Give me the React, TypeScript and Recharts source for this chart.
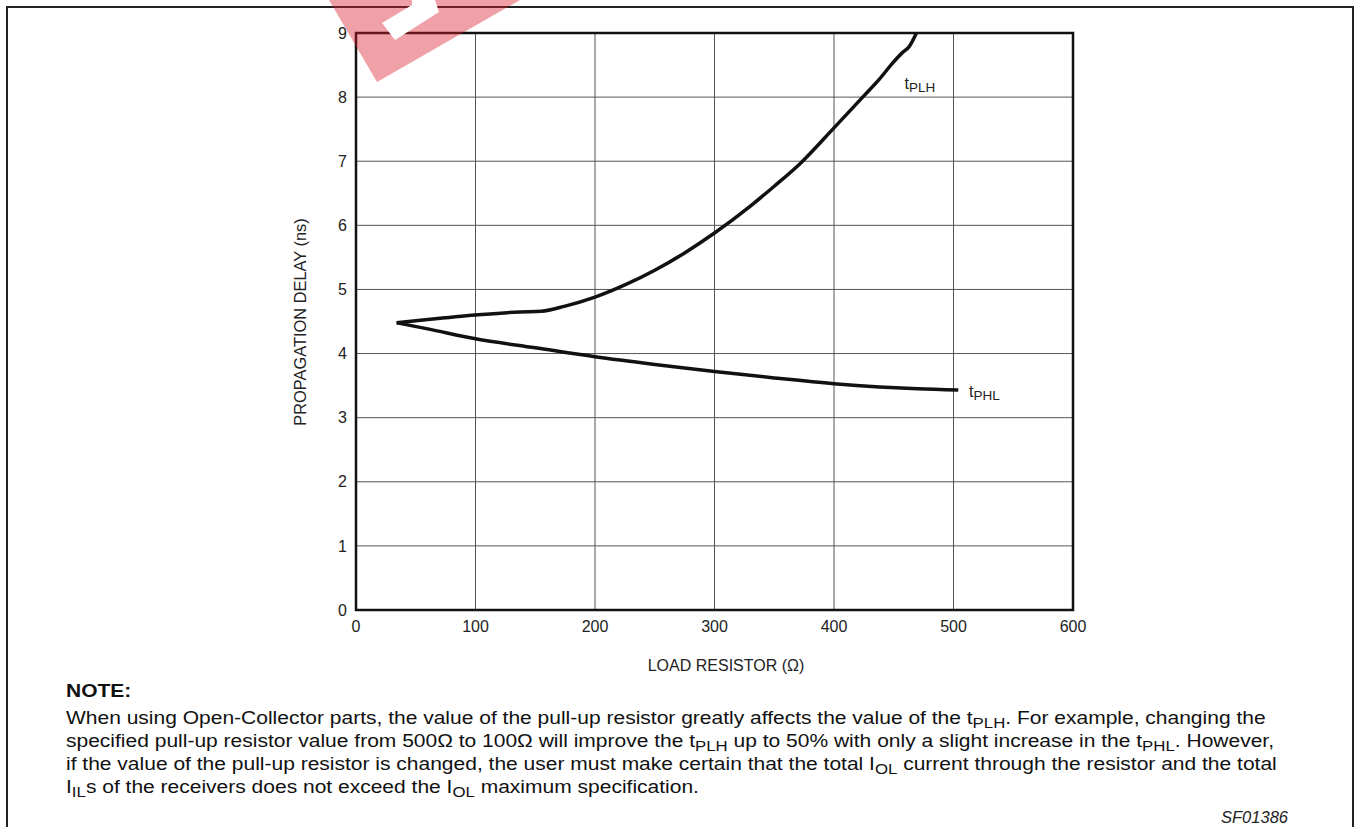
import React from "react";
import {
  LineChart,
  Line,
  XAxis,
  YAxis,
  CartesianGrid,
  ReferenceArea,
  ReferenceDot,
} from "recharts";

// load resistor (ohm) vs propagation delay (ns)
const tplhResistor = [34, 60, 100, 137, 155, 175, 200, 225, 250, 275, 300, 330, 350, 372, 400, 424, 438, 449, 457, 463, 469];
const tplhDelay = [4.48, 4.53, 4.6, 4.65, 4.66, 4.74, 4.88, 5.07, 5.3, 5.57, 5.88, 6.3, 6.61, 6.97, 7.52, 8.0, 8.28, 8.53, 8.69, 8.79, 9.0];

const tphlResistor = [34, 60, 100, 150, 200, 250, 300, 350, 400, 438, 470, 504];
const tphlDelay = [4.48, 4.385, 4.23, 4.09, 3.95, 3.83, 3.72, 3.62, 3.53, 3.48, 3.45, 3.43];

const xTicks = [0, 100, 200, 300, 400, 500, 600];
const yTicks = [0, 1, 2, 3, 4, 5, 6, 7, 8, 9];

const tplhData = tplhResistor.map((r, i) => ({ r, ns: tplhDelay[i] }));
const tphlData = tphlResistor.map((r, i) => ({ r, ns: tphlDelay[i] }));

const FONT = "Arial, 'Liberation Sans', Helvetica, sans-serif";
const INK = "#111";

function CurveLabel({ viewBox, sub }: { viewBox?: any; sub: string }) {
  if (!viewBox) return null;
  return (
    <text x={viewBox.x} y={viewBox.y} fontSize={16} fill="#222" fontFamily={FONT}>
      t
      <tspan fontSize={13.5} dy={3}>
        {sub}
      </tspan>
    </text>
  );
}

function Sub({ children }: { children: React.ReactNode }) {
  return (
    <span style={{ fontSize: 14, position: "relative", top: 4 }}>{children}</span>
  );
}

export default function App() {
  return (
    <div
      style={{
        position: "absolute",
        left: 0,
        top: 0,
        width: 1358,
        height: 827,
        overflow: "hidden",
        background: "#fff",
        fontFamily: FONT,
        color: INK,
      }}
    >
      {/* page frame */}
      <div
        style={{
          position: "absolute",
          left: 6,
          top: 6,
          width: 1344,
          height: 900,
          border: "2px solid #222",
        }}
      />

      <div style={{ position: "absolute", left: 0, top: 0 }}>
        <LineChart
          width={1358}
          height={700}
          margin={{ top: 33, right: 285, bottom: 60, left: 296 }}
        >
          <CartesianGrid stroke="#555" strokeWidth={1} />
          <XAxis
            dataKey="r"
            type="number"
            domain={[0, 600]}
            ticks={xTicks}
            allowDuplicatedCategory={false}
            height={30}
            tickLine={false}
            tickSize={0}
            tickMargin={11}
            axisLine={false}
            tick={{ fontSize: 16, fill: "#222", fontFamily: FONT }}
          />
          <YAxis
            type="number"
            domain={[0, 9]}
            ticks={yTicks}
            width={60}
            tickLine={false}
            tickSize={0}
            tickMargin={9}
            axisLine={false}
            tick={{ fontSize: 16, fill: "#222", fontFamily: FONT }}
          />
          <ReferenceArea
            x1={0}
            x2={600}
            y1={0}
            y2={9}
            fill="none"
            stroke={INK}
            strokeWidth={2.5}
            ifOverflow="visible"
          />
          <Line
            data={tplhData}
            dataKey="ns"
            type="monotone"
            stroke={INK}
            strokeWidth={3.5}
            dot={false}
            isAnimationActive={false}
          />
          <Line
            data={tphlData}
            dataKey="ns"
            type="monotone"
            stroke={INK}
            strokeWidth={3.5}
            dot={false}
            isAnimationActive={false}
          />
          <ReferenceDot
            x={459}
            y={8.12}
            r={0}
            stroke="none"
            ifOverflow="visible"
            label={(p: any) => <CurveLabel viewBox={p.viewBox} sub="PLH" />}
          />
          <ReferenceDot
            x={513}
            y={3.33}
            r={0}
            stroke="none"
            ifOverflow="visible"
            label={(p: any) => <CurveLabel viewBox={p.viewBox} sub="PHL" />}
          />
        </LineChart>
      </div>

      {/* axis titles */}
      <div
        style={{
          position: "absolute",
          left: 300,
          top: 322,
          transform: "translate(-50%, -50%) rotate(-90deg)",
          fontSize: 16.4,
          whiteSpace: "nowrap",
          color: "#222",
        }}
      >
        PROPAGATION DELAY (ns)
      </div>
      <div
        style={{
          position: "absolute",
          left: 726,
          top: 666,
          transform: "translate(-50%, -50%)",
          fontSize: 16,
          whiteSpace: "nowrap",
          color: "#222",
        }}
      >
        LOAD RESISTOR (Ω)
      </div>

      {/* note */}
      <div
        style={{
          position: "absolute",
          left: 66,
          top: 680,
          fontSize: 17.5,
          lineHeight: "22px",
          fontWeight: "bold",
          transform: "scaleX(1.2)",
          transformOrigin: "left center",
        }}
      >
        NOTE:
      </div>
      <div
        style={{
          position: "absolute",
          left: 66,
          top: 707,
          fontSize: 17.5,
          lineHeight: "22px",
          whiteSpace: "nowrap",
          transform: "scaleX(1.2)",
          transformOrigin: "left top",
        }}
      >
        When using Open-Collector parts, the value of the pull-up resistor greatly affects the value of the t<Sub>PLH</Sub>. For example, changing the
        <br />
        specified pull-up resistor value from 500Ω to 100Ω will improve the t<Sub>PLH</Sub> up to 50% with only a slight increase in the t<Sub>PHL</Sub>. However,
        <br />
        if the value of the pull-up resistor is changed, the user must make certain that the total I<Sub>OL</Sub> current through the resistor and the total
        <br />
        I<Sub>IL</Sub>s of the receivers does not exceed the I<Sub>OL</Sub> maximum specification.
      </div>
      <div
        style={{
          position: "absolute",
          right: 1358 - 1288,
          top: 808,
          fontSize: 16.5,
          fontStyle: "italic",
          color: "#222",
        }}
      >
        SF01386
      </div>

      {/* red watermark fragment at the top edge */}
      <svg
        width={1358}
        height={120}
        style={{ position: "absolute", left: 0, top: 0, pointerEvents: "none" }}
      >
        <polygon points="329,0 377,82 520,0" fill="rgba(220, 30, 45, 0.42)" />
        <polygon points="412,0 435,0 439,12 395,40 382,23 412,5" fill="#fff" />
      </svg>
    </div>
  );
}
